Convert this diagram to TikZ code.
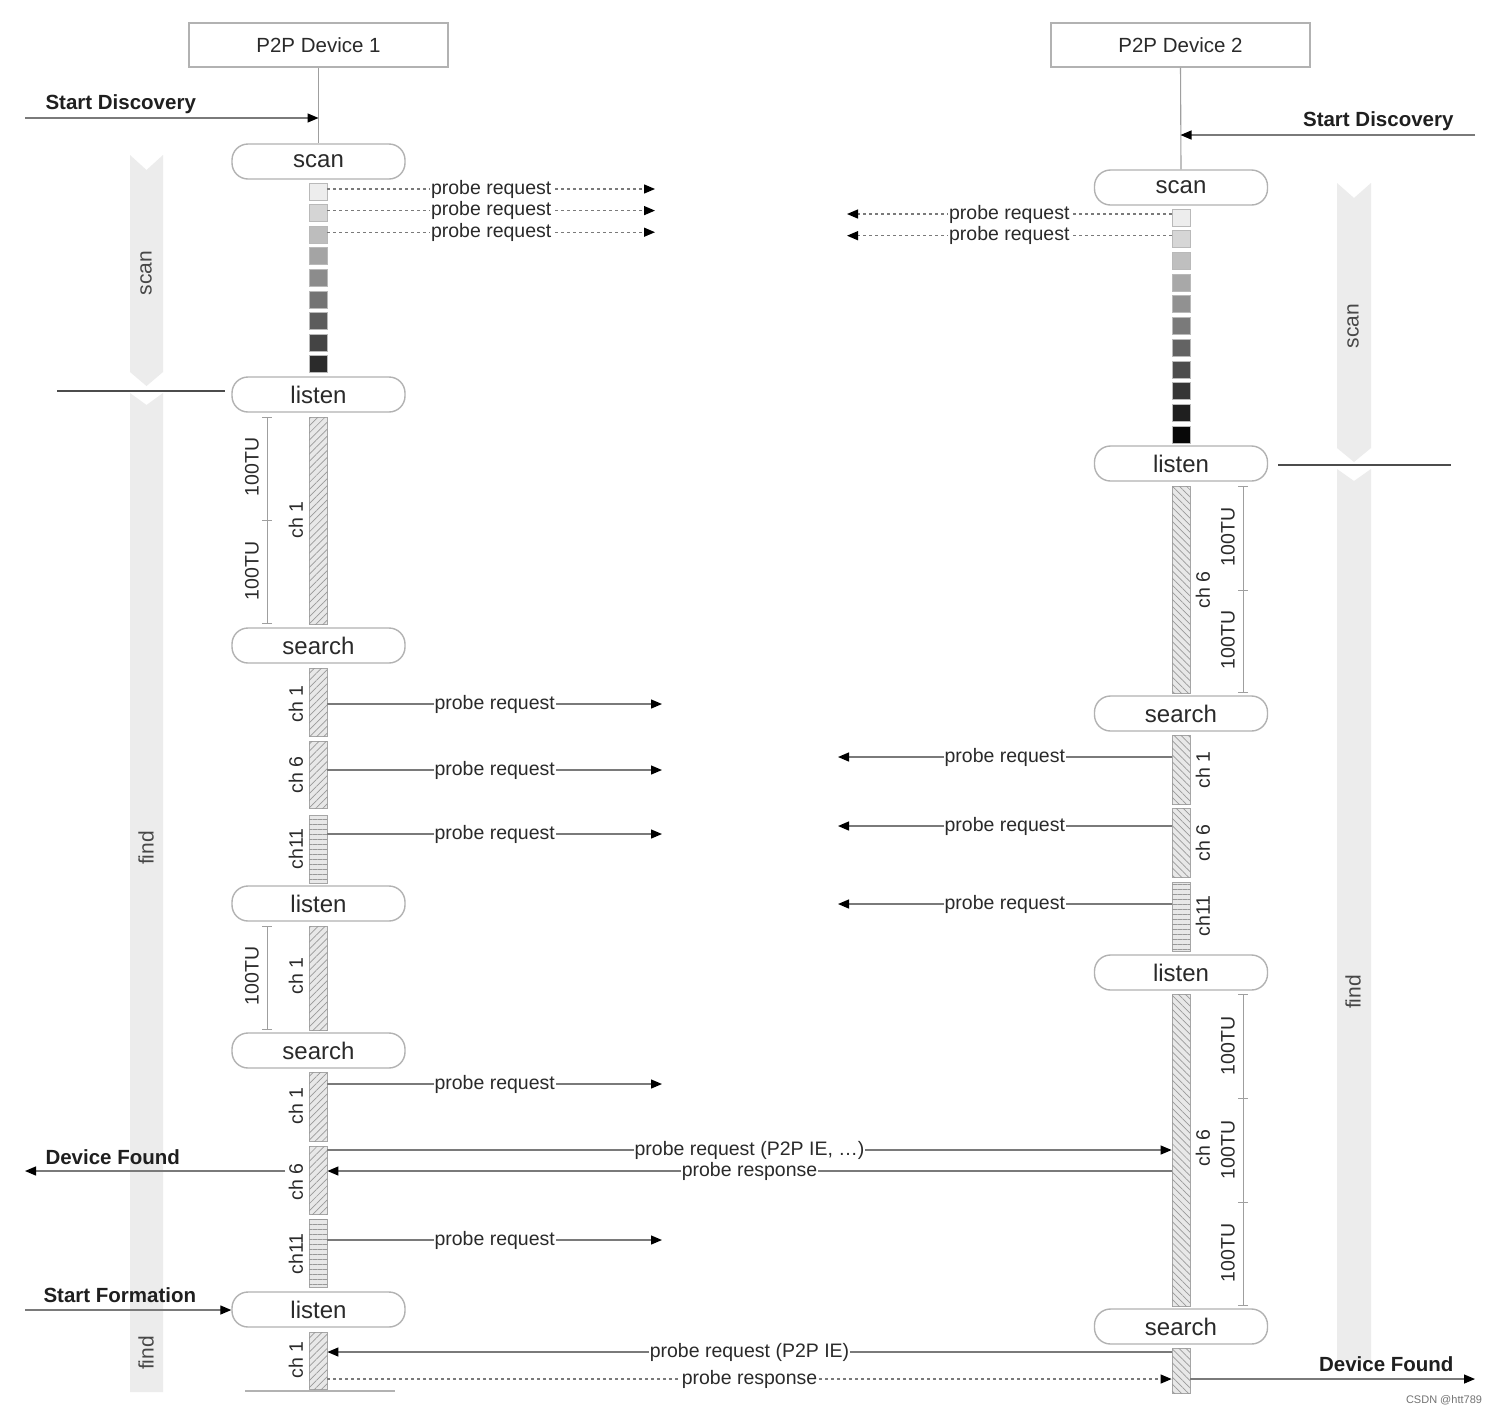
\documentclass[tikz,border=0pt]{standalone}
\usepackage{fontspec}
\setmainfont{Liberation Sans}
\usetikzlibrary{arrows.meta,patterns.meta,calc}
\definecolor{txt}{HTML}{2A2A2A}
\definecolor{bandc}{HTML}{ECECEC}
\definecolor{ln}{HTML}{7A7A7A}
\begin{document}
\begin{tikzpicture}[x=1pt,y=-1pt,
  lbl/.style={font=\fontsize{19.5}{22}\selectfont, text=txt},
  boldlbl/.style={font=\fontsize{20.5}{24}\selectfont\bfseries, text=black!88},
  rlbl/.style={lbl, rotate=90, inner sep=0pt},
  pill/.style={draw=gray!60, line width=1.4pt, rounded corners=16pt, minimum width=173pt, minimum height=35pt, fill=white, font=\fontsize{24}{27}\selectfont, text=txt, inner sep=0pt},
  devbox/.style={draw=gray!60, line width=1.2pt, minimum width=259pt, minimum height=44pt, font=\fontsize{20.5}{24}\selectfont, text=txt},
  tipr/.style={-{Triangle[length=11pt,width=9pt,color=black]}},
  msg/.style={draw=ln, line width=1.3pt, tipr},
  dmsg/.style={msg, dash pattern=on 3pt off 3pt},
  mlab/.style={lbl, fill=white, inner xsep=1pt, inner ysep=0pt},
  sq/.style={draw=gray!55, line width=0.8pt, minimum width=18pt, minimum height=17pt, inner sep=0pt},
  barbase/.style={draw=gray!70, line width=0.8pt, fill=gray!18, minimum width=18pt, inner sep=0pt},
  barne/.style={barbase, postaction={pattern color=gray!80, pattern={Lines[angle=45,distance=5pt,line width=0.7pt]}}},
  barnw/.style={barbase, postaction={pattern color=gray!80, pattern={Lines[angle=-45,distance=5pt,line width=0.7pt]}}},
  barh/.style={barbase, postaction={pattern color=gray!80, pattern={Lines[angle=0,distance=5pt,line width=0.7pt]}}},
  dimln/.style={draw=gray!75, line width=0.8pt, {Bar[width=10pt]}-{Bar[width=10pt]}},
  tick/.style={draw=gray!75, line width=0.8pt},
  sepln/.style={draw=black!70, line width=2pt},
  bandlbl/.style={font=\fontsize{21}{24}\selectfont, text=black!72, rotate=90}
]
% canvas
\path[fill=white] (0,0) rectangle (1498,1414);

% background bands
\fill[bandc] (130,155) -- (146.5,170) -- (163,155) -- (163,372) -- (146.5,386) -- (130,372) -- cycle;
\fill[bandc] (130,393) -- (146.5,405) -- (163,393) -- (163,1392) -- (130,1392) -- cycle;
\fill[bandc] (1337,183) -- (1354,198) -- (1371,183) -- (1371,448) -- (1354,462) -- (1337,448) -- cycle;
\fill[bandc] (1337,469) -- (1354,481) -- (1371,469) -- (1371,1360) -- (1337,1360) -- cycle;
\node[bandlbl] (bs1) at (146,273) {scan};
\node[bandlbl] (bf1) at (146,848) {find};
\node[bandlbl] (bf2) at (146,1353) {find};
\node[bandlbl] (bs2) at (1353,326) {scan};
\node[bandlbl] (bf3) at (1353,992) {find};

% devices
\node[devbox] (d1) at (318.5,45) {P2P Device 1};
\node[devbox] (d2) at (1180.5,45) {P2P Device 2};

% pills device 1
\node[pill] (a-scan)  at (318.5,161.5) {scan};
\node[pill] (a-lis1)  at (318.5,394.5) {listen};
\node[pill] (a-sea1)  at (318.5,645.5) {search};
\node[pill] (a-lis2)  at (318.5,903.5) {listen};
\node[pill] (a-sea2)  at (318.5,1050.5) {search};
\node[pill] (a-lis3)  at (318.5,1309.5) {listen};
% pills device 2
\node[pill] (b-scan)  at (1181,187.5) {scan};
\node[pill] (b-lis1)  at (1181,463.5) {listen};
\node[pill] (b-sea1)  at (1181,713.5) {search};
\node[pill] (b-lis2)  at (1181,972.5) {listen};
\node[pill] (b-sea2)  at (1181,1326.5) {search};

% lifelines
\draw[draw=gray!75, line width=1.1pt] (d1.south) -- (a-scan.north);
\draw[draw=gray!75, line width=1.1pt] (d2.south) -- (b-scan.north);

% start discovery
\node[boldlbl, anchor=west] (sdl1) at (42,104) {Start Discovery};
\coordinate (sd1) at (25,118);
\draw[msg] (sd1) -- (d1.south |- sd1);
\node[boldlbl, anchor=east] (sdl2) at (1457,121) {Start Discovery};
\coordinate (sd2) at (1475,135);
\draw[msg] (sd2) -- (d2.south |- sd2);

% scan squares
\foreach \i in {0,...,8} {
  \pgfmathsetmacro\c{7+\i*9.5}
  \node[sq, fill=black!\c] (qa\i) at (318,191.5+21.6*\i) {};
}
\foreach \i in {0,...,10} {
  \pgfmathsetmacro\c{7+\i*9}
  \node[sq, fill=black!\c] (qb\i) at (1181,217.5+21.7*\i) {};
}
\foreach \i in {0,1,2} {
  \coordinate (pa\i) at (655,189+21.6*\i);
  \draw[dmsg] (qa\i.east |- pa\i) -- node[mlab] (pal\i) {probe request} (pa\i);
}
\foreach \i in {0,1} {
  \coordinate (pb\i) at (847,214+21.7*\i);
  \draw[dmsg] (qb\i.west |- pb\i) -- node[mlab] (pbl\i) {probe request} (pb\i);
}

% separators
\coordinate (s1a) at (57,391); \coordinate (s1b) at (225,391);
\draw[sepln] (s1a) -- (s1b);
\coordinate (s2a) at (1278,465); \coordinate (s2b) at (1451,465);
\draw[sepln] (s2a) -- (s2b);

% channel bars device 1
\node[barne, minimum height=207pt] (aL1) at (318,520.5) {};
\node[barne, minimum height=68pt]  (aS1) at (318,702) {};
\node[barne, minimum height=67pt]  (aS2) at (318,774.5) {};
\node[barh,  minimum height=68pt]  (aS3) at (318,849) {};
\node[barne, minimum height=104pt] (aL2) at (318,978) {};
\node[barne, minimum height=69pt]  (aT1) at (318,1106.5) {};
\node[barne, minimum height=68pt]  (aT2) at (318,1180) {};
\node[barh,  minimum height=68pt]  (aT3) at (318,1253) {};
\node[barne, minimum height=57pt]  (aL3) at (318,1360.5) {};
% channel bars device 2
\node[barnw, minimum height=207pt] (bL1) at (1181,589.5) {};
\node[barnw, minimum height=69pt]  (bS1) at (1181,769.5) {};
\node[barnw, minimum height=69pt]  (bS2) at (1181,842.5) {};
\node[barh,  minimum height=69pt]  (bS3) at (1181,916.5) {};
\node[barnw, minimum height=312pt] (bL2) at (1181,1150) {};
\node[barnw, minimum height=45pt]  (bS4) at (1181,1370.5) {};

% channel labels
\node[rlbl] (caL1) at (296,520) {ch 1};
\node[rlbl] (caS1) at (296,704) {ch 1};
\node[rlbl] (caS2) at (296,775) {ch 6};
\node[rlbl] (caS3) at (296,849) {ch11};
\node[rlbl] (caL2) at (296,976) {ch 1};
\node[rlbl] (caT1) at (296,1106) {ch 1};
\node[rlbl] (caT2) at (296,1182) {ch 6};
\node[rlbl] (caT3) at (296,1254) {ch11};
\node[rlbl] (caL3) at (296,1360) {ch 1};
\node[rlbl] (cbL1) at (1203,590) {ch 6};
\node[rlbl] (cbS1) at (1203,770) {ch 1};
\node[rlbl] (cbS2) at (1203,843) {ch 6};
\node[rlbl] (cbS3) at (1203,916) {ch11};
\node[rlbl] (cbL2) at (1203,1148) {ch 6};

% dimension lines
\coordinate (da1) at (267,417); \coordinate (da2) at (267,624); \coordinate (dam) at (267,520);
\draw[dimln] (da1) -- (da2);
\draw[tick] ($(dam)+(-5,0)$) -- ($(dam)+(5,0)$);
\node[rlbl] (tua1) at (252,467) {100TU};
\node[rlbl] (tua2) at (252,571) {100TU};
\coordinate (db1) at (267,926); \coordinate (db2) at (267,1030);
\draw[dimln] (db1) -- (db2);
\node[rlbl] (tua3) at (252,976) {100TU};
\coordinate (dc1) at (1243,486); \coordinate (dc2) at (1243,693); \coordinate (dcm) at (1243,590);
\draw[dimln] (dc1) -- (dc2);
\draw[tick] ($(dcm)+(-5,0)$) -- ($(dcm)+(5,0)$);
\node[rlbl] (tub1) at (1228,537) {100TU};
\node[rlbl] (tub2) at (1228,640) {100TU};
\coordinate (dd1) at (1243,994); \coordinate (dd2) at (1243,1306);
\coordinate (ddm1) at (1243,1098); \coordinate (ddm2) at (1243,1202);
\draw[dimln] (dd1) -- (dd2);
\draw[tick] ($(ddm1)+(-5,0)$) -- ($(ddm1)+(5,0)$);
\draw[tick] ($(ddm2)+(-5,0)$) -- ($(ddm2)+(5,0)$);
\node[rlbl] (tub3) at (1228,1046) {100TU};
\node[rlbl] (tub4) at (1228,1150) {100TU};
\node[rlbl] (tub5) at (1228,1253) {100TU};

% search probe requests device 1
\coordinate (ra1) at (662,704);
\draw[msg] (aS1.east |- ra1) -- node[mlab] (ral1) {probe request} (ra1);
\coordinate (ra2) at (662,770);
\draw[msg] (aS2.east |- ra2) -- node[mlab] (ral2) {probe request} (ra2);
\coordinate (ra3) at (662,834);
\draw[msg] (aS3.east |- ra3) -- node[mlab] (ral3) {probe request} (ra3);
\coordinate (ra4) at (662,1084);
\draw[msg] (aT1.east |- ra4) -- node[mlab] (ral4) {probe request} (ra4);
\coordinate (ra5) at (662,1240);
\draw[msg] (aT3.east |- ra5) -- node[mlab] (ral5) {probe request} (ra5);

% search probe requests device 2
\coordinate (rb1) at (838,757);
\draw[msg] (bS1.west |- rb1) -- node[mlab] (rbl1) {probe request} (rb1);
\coordinate (rb2) at (838,826);
\draw[msg] (bS2.west |- rb2) -- node[mlab] (rbl2) {probe request} (rb2);
\coordinate (rb3) at (838,904);
\draw[msg] (bS3.west |- rb3) -- node[mlab] (rbl3) {probe request} (rb3);

% exchange
\coordinate (x1) at (0,1150);
\draw[msg] (aT2.east |- x1) -- node[mlab] (xl1) {probe request (P2P IE, \dots)} (bL2.west |- x1);
\coordinate (x2) at (0,1171);
\draw[msg] (bL2.west |- x2) -- node[mlab] (xl2) {probe response} (aT2.east |- x2);
\coordinate (df1a) at (285,1171); \coordinate (df1b) at (25,1171);
\draw[msg] (df1a) -- (df1b);
\node[boldlbl, anchor=west] (dfl1) at (42,1157) {Device Found};

% formation
\node[boldlbl, anchor=west] (sfl) at (40,1295) {Start Formation};
\coordinate (sf) at (25,1310);
\draw[msg] (sf) -- (a-lis3.west |- sf);

\coordinate (x3) at (0,1352);
\draw[msg] (bS4.west |- x3) -- node[mlab] (xl3) {probe request (P2P IE)} (aL3.east |- x3);
\coordinate (x4) at (0,1379);
\draw[dmsg] (aL3.east |- x4) -- node[mlab] (xl4) {probe response} (bS4.west |- x4);
\coordinate (df2) at (1475,1379);
\draw[msg] (bS4.east |- df2) -- (df2);
\node[boldlbl, anchor=east] (dfl2) at (1457,1364) {Device Found};

% bottom line
\coordinate (bl1) at (245,1391); \coordinate (bl2) at (395,1391);
\draw[draw=gray!60, line width=1.2pt] (bl1) -- (bl2);

% watermark
\node[font=\fontsize{11}{13}\selectfont, text=black!55] (wm) at (1444,1400) {CSDN @htt789};
\end{tikzpicture}
\end{document}
